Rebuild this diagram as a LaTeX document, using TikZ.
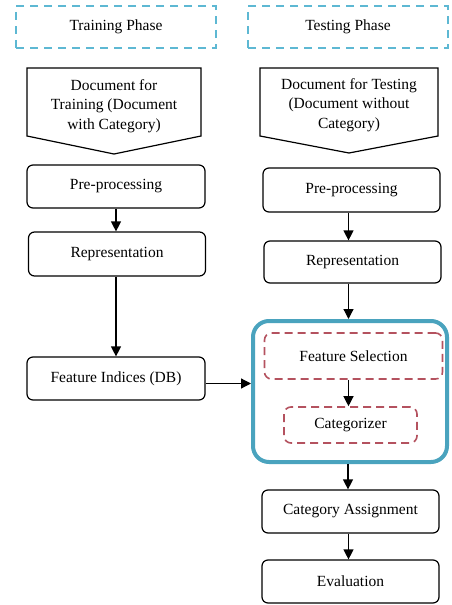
\documentclass[tikz,border=0pt]{standalone}
\usepackage{fontspec}
\setmainfont{Liberation Serif}
\usetikzlibrary{arrows.meta}
\definecolor{phaseblue}{HTML}{5DB8D3}
\definecolor{bigblue}{HTML}{4AA3BE}
\definecolor{dustred}{HTML}{B4525F}
\begin{document}
\begin{tikzpicture}[x=1pt,y=-1pt,
  every node/.style={font=\fontsize{15.5}{19.5}\selectfont},
  phasebox/.style={draw=phaseblue,line width=1.5pt,dash pattern=on 8pt off 6pt,minimum width=200pt,minimum height=42pt},
  procbox/.style={draw=black,line width=1.2pt,rounded corners=6pt,minimum width=177pt,minimum height=43pt},
  redbox/.style={draw=dustred,line width=1.6pt,dash pattern=on 8pt off 5pt,rounded corners=7pt},
  arr/.style={-{Triangle[length=10pt,width=10pt]},line width=1.2pt}
]
\useasboundingbox (0,0) rectangle (451,605);
% phases
\node[phasebox] (trainphase) at (116,27) {Training Phase};
\node[phasebox] (testphase) at (348,27) {Testing Phase};
% documents (pentagons)
\draw[line width=1.2pt,line join=miter] (27,68) -- (201,68) -- (201,136) -- (114,154) -- (27,136) -- cycle;
\node[align=center] (doctrain) at (114,106) {Document for\\Training (Document\\with Category)};
\draw[line width=1.2pt,line join=miter] (260,68) -- (438,68) -- (438,136) -- (349,153) -- (260,136) -- cycle;
\node[align=center] (doctest) at (349,105) {Document for Testing\\(Document without\\Category)};
% left column
\node[procbox,minimum width=178pt] (preL) at (116,186.5) {Pre-processing};
\node[procbox,minimum height=44pt] (repL) at (117,254) {Representation};
\node[procbox,minimum width=178pt] (fi) at (116,378.5) {Feature Indices (DB)};
% right column
\node[procbox,minimum height=44pt] (preR) at (351.5,190) {Pre-processing};
\node[procbox,minimum height=42pt] (repR) at (352.5,262) {Representation};
\node[draw=bigblue,line width=4pt,rounded corners=16pt,minimum width=194pt,minimum height=141pt] (big) at (350,391.5) {};
\node[redbox,minimum width=178pt,minimum height=46pt] (fs) at (353.5,356) {Feature Selection};
\node[redbox,minimum width=133pt,minimum height=36pt] (cat) at (350.5,425) {Categorizer};
\node[procbox] (ca) at (350.5,511.5) {Category Assignment};
\node[procbox] (ev) at (350.5,581.5) {Evaluation};
% arrows
\draw[arr] (preL.south) -- (preL.south |- repL.north);
\draw[arr] (repL.south -| fi.north) -- (fi.north);
\draw[arr] ([yshift=-5pt]fi.east) -- ([yshift=-5pt]fi.east -| big.west);
\draw[arr] ([xshift=-3pt]preR.south) -- ([xshift=-3pt]preR.south |- repR.north);
\draw[arr] ([xshift=-4pt]repR.south) -- ([xshift=-4pt]repR.south |- big.north);
\draw[arr] ([xshift=-5pt]fs.south) -- ([xshift=-5pt]fs.south |- cat.north);
\draw[arr] ([xshift=-2pt]big.south) -- ([xshift=-2pt]big.south |- ca.north);
\draw[arr] ([xshift=-2pt]ca.south) -- ([xshift=-2pt]ca.south |- ev.north);
\end{tikzpicture}
\end{document}
